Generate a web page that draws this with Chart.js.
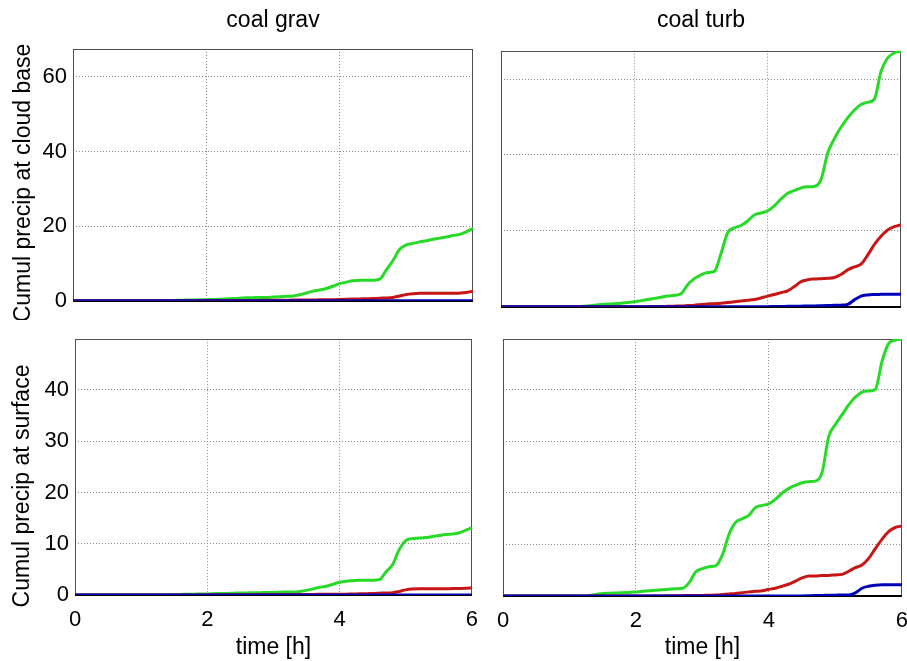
<!DOCTYPE html>
<html>
<head>
<meta charset="utf-8">
<script src="https://cdn.jsdelivr.net/npm/chart.js@4.4.1/dist/chart.umd.min.js"></script>
<style>
html,body{margin:0;padding:0;background:#fff;overflow:hidden;width:907px;height:661px;position:relative;}
canvas{position:absolute;}
</style>
</head>
<body>
<canvas id="c1" width="490" height="320" style="left:0;top:0"></canvas>
<canvas id="c2" width="440" height="320" style="left:480px;top:0"></canvas>
<canvas id="c3" width="490" height="341" style="left:0;top:320px"></canvas>
<canvas id="c4" width="440" height="341" style="left:480px;top:320px"></canvas>
<script>
// ---------------- DATA ----------------
const panelTitles = ["coal grav", "coal turb"];
const rowLabels = ["Cumul precip at cloud base", "Cumul precip at surface"];
const xTitle = "time [h]";
const xTicks = [0, 2, 4, 6];
const yTicksTop = [0, 20, 40, 60];
const yTicksBottom = [0, 10, 20, 30, 40];

const time = [0.0,0.1,0.2,0.3,0.4,0.5,0.6,0.7,0.8,0.9,1.0,1.1,1.2,1.3,1.4,1.5,1.6,1.7,1.8,1.9,
  2.0,2.1,2.2,2.3,2.4,2.5,2.6,2.7,2.8,2.9,3.0,3.1,3.2,3.3,3.4,3.5,3.6,3.7,3.8,3.9,
  4.0,4.1,4.2,4.3,4.4,4.5,4.6,4.7,4.8,4.9,5.0,5.1,5.2,5.3,5.4,5.5,5.6,5.7,5.8,5.9,6.0];

// coal grav, cloud base
const gravBaseGreen = [0,0,0,0,0,0,0,0,0,0,0,0,0,
  0.05,0.1,0.1,0.15,0.2,0.2,0.25,0.3,
  0.35,0.4,0.5,0.6,0.7,0.8,0.85,0.9,0.9,1.0,
  1.1,1.2,1.3,1.6,2.1,2.6,2.9,3.3,3.9,4.6,
  5.0,5.4,5.5,5.5,5.5,5.8,8.3,10.8,13.8,15.0,
  15.4,15.8,16.1,16.5,16.8,17.1,17.5,17.8,18.5,19.4];
const gravBaseRed = [0,0,0,0,0,0,0,0,0,0,0,0,0,0,0,0,0,0,0,0,
  0.05,0.05,0.05,0.1,0.1,0.1,0.1,0.1,0.1,0.15,0.15,
  0.15,0.15,0.2,0.2,0.2,0.2,0.25,0.25,0.3,0.35,
  0.4,0.45,0.5,0.55,0.6,0.7,0.75,0.9,1.3,1.7,
  1.9,2.0,2.0,2.0,2.0,2.0,2.0,2.05,2.2,2.6];
const gravBaseBlue = [0,0,0,0,0,0,0,0,0,0,0,0,0,0,0,0,0,0,0,0,
  0,0,0,0,0,0,0,0,0,0,0,0,0,0,0,0,0,0,0,0,
  0,0,0,0,0,0,0,0,0,0,0,0,0,0,0,0,0,0,0,0,0];

// coal turb, cloud base
const turbBaseGreen = [0,0,0,0,0,0,0,0,0,0,0,0,
  0.05,0.2,0.4,0.6,0.7,0.8,0.9,1.1,1.3,
  1.6,1.9,2.2,2.5,2.8,3.0,3.4,5.8,7.4,8.4,
  9.0,9.3,14.0,19.5,20.8,21.4,22.6,24.2,24.7,25.3,
  26.6,28.4,29.9,30.6,31.3,31.6,31.7,33.5,40.5,44.3,
  47.3,49.8,51.8,53.3,53.9,54.7,62.0,65.6,66.9,67.4];
const turbBaseRed = [0,0,0,0,0,0,0,0,0,0,0,0,0,0,0,0,0,0,0,0,0,0,0,
  0.05,0.05,0.1,0.15,0.2,0.3,0.4,0.6,
  0.7,0.8,0.9,1.1,1.3,1.5,1.7,1.9,2.3,2.8,
  3.2,3.7,4.2,5.3,6.6,7.1,7.3,7.4,7.5,7.7,
  8.5,9.7,10.5,11.2,13.6,16.4,18.6,20.2,21.1,21.6];
const turbBaseBlue = [0,0,0,0,0,0,0,0,0,0,0,0,0,0,0,0,0,0,0,0,
  0,0,0,0,0,0,0,0,0,0,0,0,0,0,0,0,0,0,0,0,0,
  0.05,0.05,0.1,0.1,0.15,0.2,0.2,0.25,0.3,0.35,
  0.4,0.6,1.8,2.8,3.1,3.2,3.25,3.3,3.3,3.3];

// coal grav, surface
const gravSurfGreen = [0,0,0,0,0,0,0,0,0,0,0,0,0,0,
  0.05,0.1,0.1,0.15,0.15,0.2,0.2,
  0.25,0.3,0.3,0.35,0.4,0.4,0.45,0.45,0.5,0.5,
  0.55,0.6,0.6,0.7,0.9,1.2,1.5,1.7,2.1,2.5,
  2.7,2.8,2.9,2.9,2.9,3.0,4.5,5.9,8.8,10.6,
  11.0,11.1,11.2,11.4,11.6,11.8,11.9,12.1,12.6,13.1];
const gravSurfRed = [0,0,0,0,0,0,0,0,0,0,0,0,0,0,0,0,0,0,0,0,
  0.02,0.03,0.04,0.05,0.05,0.06,0.07,0.07,0.08,0.08,0.09,
  0.1,0.1,0.1,0.1,0.12,0.12,0.13,0.14,0.15,0.15,
  0.17,0.2,0.22,0.25,0.3,0.35,0.4,0.45,0.7,1.0,
  1.15,1.2,1.2,1.2,1.2,1.2,1.25,1.25,1.3,1.4];
const gravSurfBlue = [0,0,0,0,0,0,0,0,0,0,0,0,0,0,0,0,0,0,0,0,
  0,0,0,0,0,0,0,0,0,0,0,0,0,0,0,0,0,0,0,0,
  0,0,0,0,0,0,0,0,0,0,0,0,0,0,0,0,0,0,0,0,0];

// coal turb, surface
const turbSurfGreen = [0,0,0,0,0,0,0,0,0,0,0,0,0,
  0.1,0.3,0.5,0.55,0.6,0.65,0.7,0.8,
  0.9,1.0,1.1,1.2,1.3,1.4,1.5,2.6,4.7,5.3,
  5.7,5.9,8.0,12.0,14.3,15.0,15.7,17.2,17.6,17.9,
  18.8,20.0,20.9,21.5,22.0,22.2,22.3,24.0,31.0,33.3,
  35.2,37.1,38.6,39.6,39.8,40.1,45.5,49.0,49.7,49.9];
const turbSurfRed = [0,0,0,0,0,0,0,0,0,0,0,0,0,0,0,0,0,0,0,0,0,0,0,0,0,
  0.05,0.05,0.05,0.1,0.1,0.1,
  0.15,0.2,0.3,0.4,0.5,0.65,0.8,0.9,1.0,1.3,
  1.5,1.9,2.3,2.9,3.5,3.9,3.9,4.0,4.0,4.1,
  4.2,4.8,5.5,6.0,7.3,9.2,11.0,12.5,13.3,13.6];
const turbSurfBlue = [0,0,0,0,0,0,0,0,0,0,0,0,0,0,0,0,0,0,0,0,
  0,0,0,0,0,0,0,0,0,0,0,0,0,0,0,0,0,0,0,0,
  0,0,0,0,0,0,
  0.05,0.1,0.1,0.15,0.15,
  0.2,0.2,0.6,1.5,1.9,2.1,2.2,2.2,2.2,2.2];

// ---------------- STYLE ----------------
const FONT = '"Liberation Sans", Arial, Helvetica, sans-serif';
Chart.defaults.font.family = FONT;
Chart.defaults.color = '#000';
const GREEN = 'rgb(40,218,40)';
const RED = 'rgb(200,22,22)';
const BLUE = 'rgb(0,0,185)';
const GRID = '#8a8a8a';

const framePlugin = {
  id: 'frame',
  beforeDatasetsDraw(chart) {
    const {ctx, chartArea: a} = chart;
    ctx.save();
    ctx.strokeStyle = '#505050';
    ctx.lineWidth = 1;
    ctx.strokeRect(Math.round(a.left) + 0.5, Math.round(a.top) + 0.5,
                   Math.round(a.right) - Math.round(a.left) - 1, Math.round(a.bottom) - Math.round(a.top));
    ctx.strokeStyle = '#000';
    ctx.lineWidth = 2;
    ctx.beginPath();
    ctx.moveTo(a.left, Math.round(a.bottom));
    ctx.lineTo(a.right, Math.round(a.bottom));
    ctx.stroke();
    ctx.restore();
  }
};

function sideLabel(text, cx, cy) {
  return {
    id: 'sideLabel',
    afterDraw(chart) {
      const ctx = chart.ctx;
      ctx.save();
      ctx.font = '23px ' + FONT;
      ctx.fillStyle = '#000';
      ctx.textAlign = 'center';
      ctx.textBaseline = 'middle';
      ctx.translate(cx, cy);
      ctx.rotate(-Math.PI / 2);
      ctx.fillText(text, 0, 0);
      ctx.restore();
    }
  };
}

function pts(vals) { return time.map((t, i) => ({x: t, y: vals[i]})); }

function gridColor(ctx) {
  const v = ctx.tick ? ctx.tick.value : null;
  return (v === 0 || v === 6) ? 'rgba(0,0,0,0)' : GRID;
}

function makePanel(id, cfg) {
  const datasets = [
    {data: pts(cfg.blue), borderColor: BLUE},
    {data: pts(cfg.red), borderColor: RED},
    {data: pts(cfg.green), borderColor: GREEN}
  ].map(d => Object.assign(d, {borderWidth: 3, pointRadius: 0, fill: false, cubicInterpolationMode: 'monotone'}));

  const plugins = [framePlugin];
  if (cfg.sideLabel) plugins.push(sideLabel(cfg.sideLabel.text, cfg.sideLabel.x, cfg.sideLabel.y));

  new Chart(document.getElementById(id), {
    type: 'line',
    data: {datasets},
    plugins,
    options: {
      responsive: false,
      animation: false,
      devicePixelRatio: 1,
      events: [],
      layout: {padding: {left: 0, right: cfg.padRight, top: cfg.padTop || 0, bottom: 0}},
      plugins: {
        legend: {display: false},
        tooltip: {enabled: false},
        title: cfg.title ? {
          display: true, text: cfg.title, fullSize: false, color: '#000',
          font: {size: 23, weight: 'normal', family: FONT},
          padding: {top: 7, bottom: cfg.titleBottom}
        } : {display: false}
      },
      scales: {
        x: {
          type: 'linear', min: 0, max: 6, bounds: 'data',
          afterBuildTicks(s) { s.ticks = xTicks.map(v => ({value: v})); },
          afterFit(s) { s.height = cfg.xAxisH; },
          ticks: {
            display: cfg.showX, autoSkip: false, maxRotation: 0,
            padding: 12, color: '#000', font: {size: 22, family: FONT},
            callback: v => String(v)
          },
          grid: {color: gridColor, lineWidth: 1, drawTicks: false},
          border: {display: false, dash: [1, 2]},
          title: cfg.showX ? {display: true, text: xTitle, color: '#000',
            font: {size: 23, family: FONT}, padding: {top: 0, bottom: 0}} : {display: false}
        },
        y: {
          type: 'linear', min: 0, max: cfg.ymax, bounds: 'data',
          afterBuildTicks(s) { s.ticks = cfg.yTicks.map(v => ({value: v})); },
          afterFit(s) { s.width = cfg.yAxisW; },
          ticks: {
            display: cfg.showY, autoSkip: false,
            padding: 6, color: '#000', font: {size: 22, family: FONT},
            callback: v => String(v)
          },
          grid: {color: gridColor, lineWidth: 1, drawTicks: false},
          border: {display: false, dash: [1, 2]}
        }
      }
    }
  });
}

makePanel('c1', {
  title: panelTitles[0], titleBottom: 14.4, padRight: 17, xAxisH: 15, yAxisW: 73,
  ymax: 67.5, yTicks: yTicksTop, showY: true, showX: false,
  sideLabel: {text: rowLabels[0], x: 24, y: 183},
  green: gravBaseGreen, red: gravBaseRed, blue: gravBaseBlue
});
makePanel('c2', {
  title: panelTitles[1], titleBottom: 16.1, padRight: 19, xAxisH: 13.3, yAxisW: 21,
  ymax: 67.5, yTicks: yTicksTop, showY: false, showX: false,
  green: turbBaseGreen, red: turbBaseRed, blue: turbBaseBlue
});
makePanel('c3', {
  padTop: 17, padRight: 15, xAxisH: 66, yAxisW: 75,
  ymax: 49.9, yTicks: yTicksBottom, showY: true, showX: true,
  sideLabel: {text: rowLabels[1], x: 23, y: 166},
  green: gravSurfGreen, red: gravSurfRed, blue: gravSurfBlue
});
makePanel('c4', {
  padTop: 19, padRight: 17, xAxisH: 65, yAxisW: 23,
  ymax: 49.9, yTicks: yTicksBottom, showY: false, showX: true,
  green: turbSurfGreen, red: turbSurfRed, blue: turbSurfBlue
});
</script>
</body>
</html>
